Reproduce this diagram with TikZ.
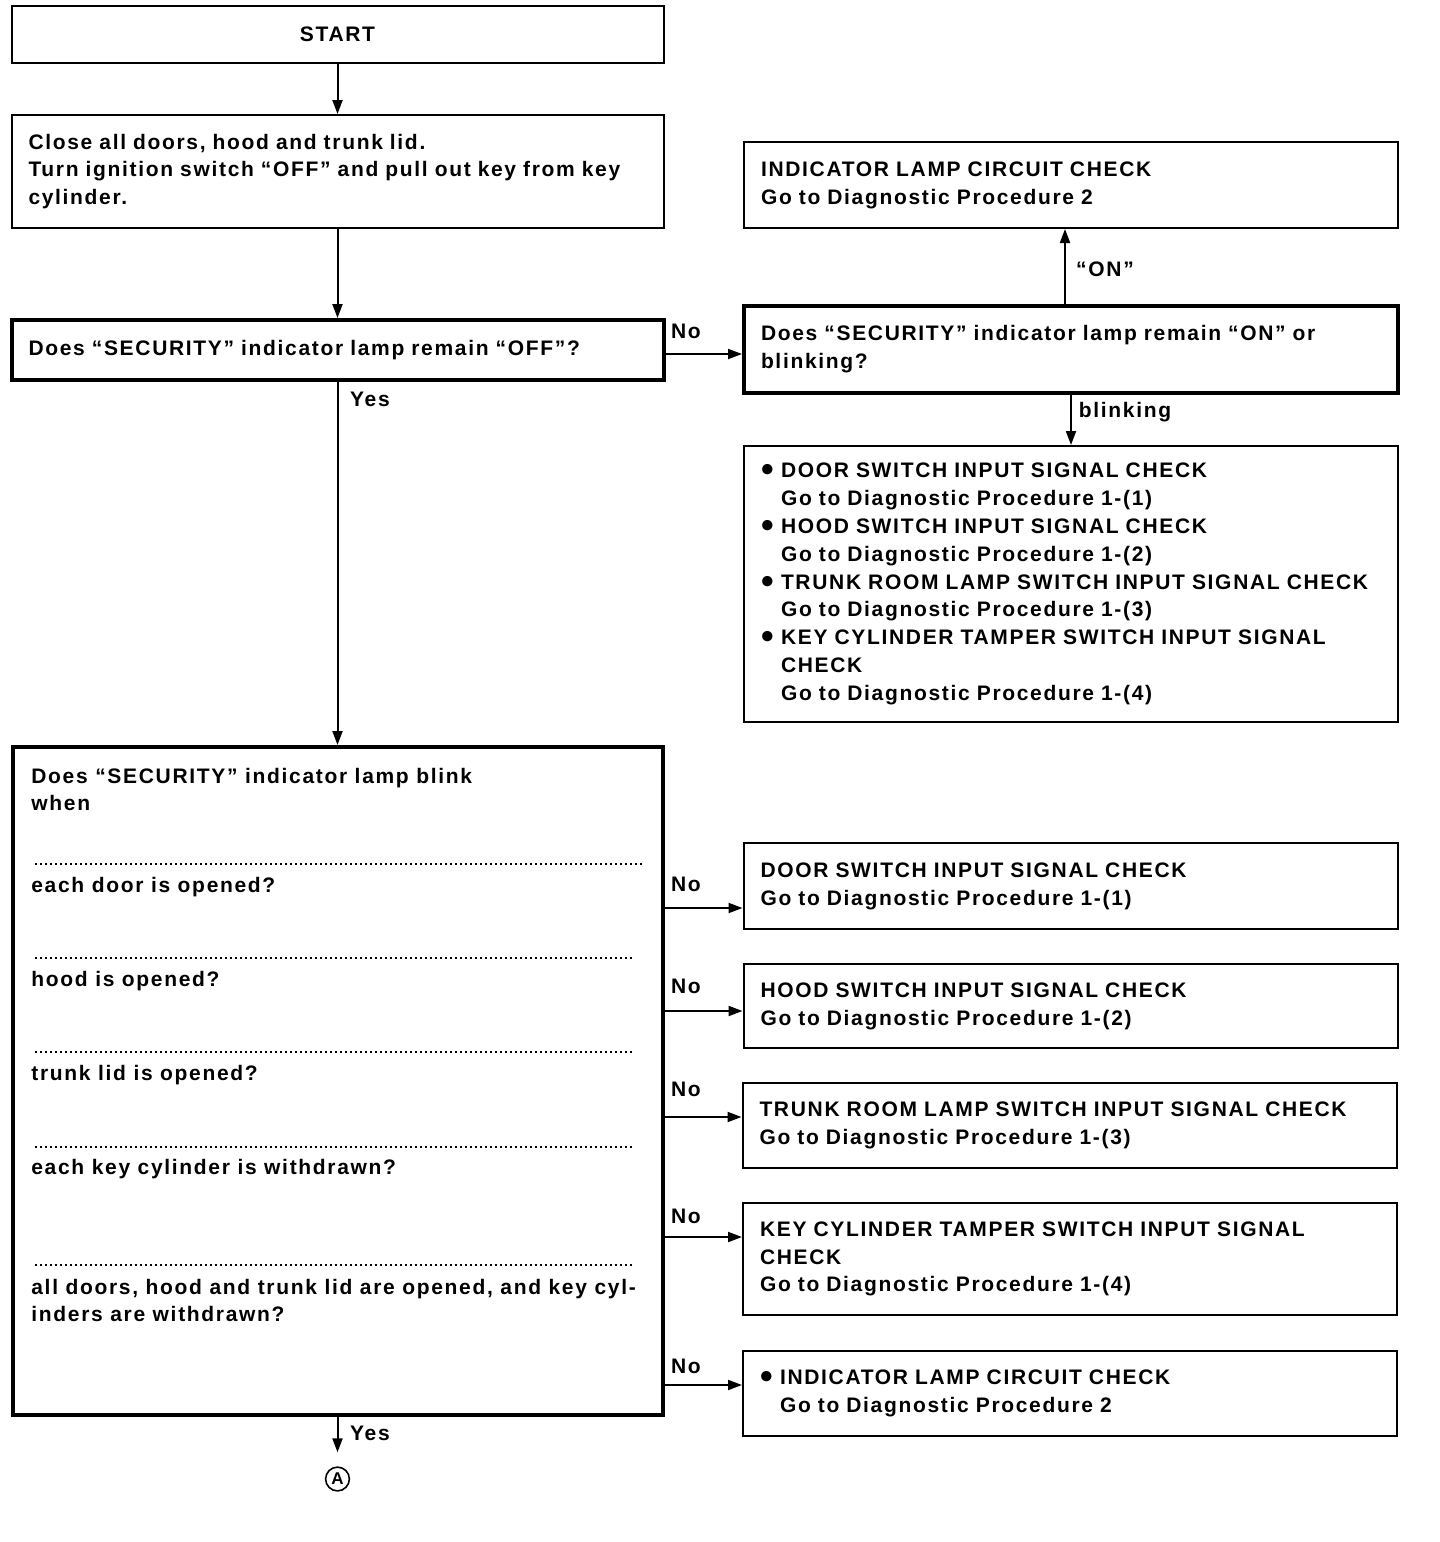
\documentclass[tikz,border=0pt]{standalone}
\usepackage{fontspec}
\setmainfont{Liberation Sans}[LetterSpace=8]
\usetikzlibrary{arrows.meta,positioning}

\newcommand{\itm}{\makebox[10pt][l]{\raisebox{-2pt}{\fontsize{18}{18}\selectfont\textbullet}}}
\newcommand{\ind}{\hspace*{10pt}}

\begin{document}
\begin{tikzpicture}[
    x=0.5pt, y=-0.5pt,
    font=\fontsize{10.5}{13.9}\selectfont\bfseries,
    box/.style={draw, line width=1pt, inner xsep=8.5pt, inner ysep=3pt, align=left},
    lbox/.style={box, text width=309pt},
    rbox/.style={box, text width=310pt},
    thick box/.style={line width=2pt},
    lbl/.style={inner sep=1pt},
    arrow/.style={-{Triangle[length=7pt,width=5pt]}, line width=1pt},
    sep/.style={line width=0.8pt, dash pattern=on 0.8pt off 1.7pt}
]
\useasboundingbox (0,0) rectangle (1440,1542);

% left column
\node[lbox, align=center, minimum height=28.5pt] (start) at (337.5,34.5) {START};
\node[lbox, minimum height=56.5pt] (close) at (337.5,171.5) {Close all doors, hood and trunk lid.\\\mbox{Turn ignition switch “OFF” and pull out key from key}\\cylinder.};
\node[lbox, thick box, minimum height=30pt] (off) at (337.5,350) {Does “SECURITY” indicator lamp remain “OFF”?};
\node[lbox, thick box, text width=308pt, minimum height=334pt] (big) at (337.5,1081) {};

% right column, upper part
\node[rbox, minimum height=43pt] (lampchk) at (1071,185) {INDICATOR LAMP CIRCUIT CHECK\\Go to Diagnostic Procedure 2};
\node[rbox, thick box, minimum height=43.5pt] (onblink) at (1071,349.5) {\mbox{Does “SECURITY” indicator lamp remain “ON” or}\\blinking?};
\node[rbox, minimum height=138pt] (blinkchk) at (1071,584) {\itm DOOR SWITCH INPUT SIGNAL CHECK\\
\ind Go to Diagnostic Procedure 1-(1)\\
\itm HOOD SWITCH INPUT SIGNAL CHECK\\
\ind Go to Diagnostic Procedure 1-(2)\\
\mbox{\itm TRUNK ROOM LAMP SWITCH INPUT SIGNAL CHECK}\\
\ind Go to Diagnostic Procedure 1-(3)\\
\mbox{\itm KEY CYLINDER TAMPER SWITCH INPUT SIGNAL}\\
\ind CHECK\\
\ind Go to Diagnostic Procedure 1-(4)};

% right column, lower part
\node[rbox, minimum height=43pt] (r1) at (1070.5,886) {DOOR SWITCH INPUT SIGNAL CHECK\\Go to Diagnostic Procedure 1-(1)};
\node[rbox, minimum height=42pt] (r2) at (1070.5,1006) {HOOD SWITCH INPUT SIGNAL CHECK\\Go to Diagnostic Procedure 1-(2)};
\node[rbox, minimum height=42.5pt] (r3) at (1069.5,1125.5) {\mbox{TRUNK ROOM LAMP SWITCH INPUT SIGNAL CHECK}\\Go to Diagnostic Procedure 1-(3)};
\node[rbox, minimum height=56pt] (r4) at (1070,1259) {\mbox{KEY CYLINDER TAMPER SWITCH INPUT SIGNAL}\\CHECK\\Go to Diagnostic Procedure 1-(4)};
\node[rbox, minimum height=42.5pt] (r5) at (1070,1393.5) {\itm INDICATOR LAMP CIRCUIT CHECK\\\ind Go to Diagnostic Procedure 2};

% questions inside the big box
\node[lbl, anchor=west, align=left] (q0) at (29,789.5) {Does “SECURITY” indicator lamp blink\\when};
\node[lbl, anchor=west] (q1) at (29,887) {each door is opened?};
\node[lbl, anchor=west] (q2) at (29,981) {hood is opened?};
\node[lbl, anchor=west] (q3) at (29,1075) {trunk lid is opened?};
\node[lbl, anchor=west] (q4) at (29,1169) {each key cylinder is withdrawn?};
\node[lbl, anchor=west, align=left] (q5) at (29,1300.5) {all doors, hood and trunk lid are opened, and key cyl-\\inders are withdrawn?};
\draw[sep] (35,864) -- (643,864);
\foreach \y in {958,1052,1147,1265}
  \draw[sep] (35,\y) -- (632,\y);

\node[circle, draw, line width=0.8pt, inner sep=1.2pt, font=\fontsize{8.5}{8.5}\selectfont\bfseries] (ptA) at (337.5,1479) {A};

% labels
\node[lbl] (noOff) at (686,331) {No};
\node[lbl] (yesOff) at (370,399) {Yes};
\node[lbl] (onLbl) at (1105,269) {“ON”};
\node[lbl] (blinkLbl) at (1125,412) {blinking};
\node[lbl] (yesBig) at (370,1433) {Yes};
\foreach \n/\y in {1/884,2/986,3/1089,4/1216,5/1366}
  \node[lbl] (no\n) at (686,\y) {No};

% connectors
\draw[arrow] (start) -- (close);
\draw[arrow] (close) -- (off);
\draw[arrow] (off.east |- 0,354) -- (onblink.west |- 0,354);
\draw[arrow] (onblink.north -| 1065,0) -- (lampchk.south -| 1065,0);
\draw[arrow] (onblink) -- (blinkchk);
\draw[arrow] (off) -- (big);
\foreach \r/\y in {r1/908,r2/1011,r3/1117,r4/1237,r5/1385}
  \draw[arrow] (big.east |- 0,\y) -- (\r.west |- 0,\y);
\draw[arrow, shorten >=7pt] (big) -- (ptA);
\end{tikzpicture}
\end{document}
